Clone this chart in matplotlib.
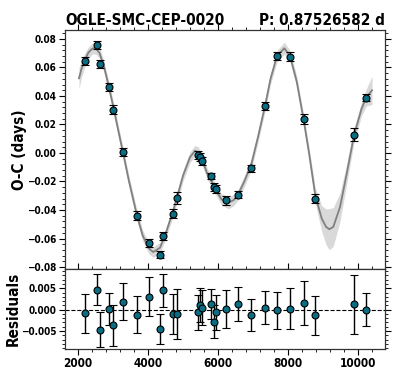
import matplotlib
matplotlib.use('Agg')
import matplotlib.pyplot as plt
from matplotlib.ticker import MultipleLocator
import numpy as np

# observed O-C points
epochs = [2200, 2530, 2620, 2877, 3000, 3294, 3677, 4029, 4343, 4437, 4714, 4820,
          5437, 5486, 5551, 5800, 5877, 5943, 6237, 6580, 6951, 7343, 7686, 8057,
          8448, 8780, 9886, 10237]
oc = [0.0645, 0.0758, 0.0627, 0.0463, 0.0304, 0.0007, -0.0439, -0.0632, -0.0713,
      -0.0582, -0.0425, -0.0316, -0.0016, -0.0028, -0.0056, -0.0161, -0.0239,
      -0.0255, -0.0332, -0.0292, -0.0107, 0.0330, 0.0681, 0.0676, 0.0236, -0.0320,
      0.0128, 0.0388]
oc_err = [0.0031, 0.0025, 0.0028, 0.0025, 0.0032, 0.0029, 0.0029, 0.0031, 0.0024,
          0.0026, 0.0031, 0.0040, 0.0028, 0.0027, 0.0028, 0.0024, 0.0026, 0.0028,
          0.0030, 0.0027, 0.0025, 0.0026, 0.0029, 0.0032, 0.0035, 0.0031, 0.0047,
          0.0026]
resid = [-0.0009, 0.0047, -0.0047, 0.0002, -0.0037, 0.0019, -0.0012, 0.0030, -0.0045,
         0.0045, -0.0010, -0.0010, -0.0006, 0.0010, 0.0005, 0.0013, -0.0028, -0.0006,
         0.0002, 0.0013, -0.0013, 0.0005, -0.0002, 0.0002, 0.0016, -0.0013, 0.0013,
         0.0000]
res_err = [0.0046, 0.0037, 0.0041, 0.0037, 0.0048, 0.0043, 0.0043, 0.0046, 0.0035,
           0.0038, 0.0046, 0.0059, 0.0041, 0.0040, 0.0042, 0.0036, 0.0038, 0.0041,
           0.0044, 0.0040, 0.0037, 0.0038, 0.0043, 0.0048, 0.0052, 0.0046, 0.0069,
           0.0039]

# model curve
model_x = [2030, 2100, 2200, 2300, 2400, 2450, 2530, 2620, 2750, 2877, 3000, 3150,
           3294, 3450, 3677, 3850, 4029, 4150, 4343, 4500, 4714, 4820, 5000, 5200,
           5343, 5437, 5551, 5700, 5800, 5943, 6100, 6294, 6450, 6580, 6750, 6951,
           7150, 7343, 7500, 7686, 7894, 8057, 8250, 8448, 8600, 8780, 8963, 9086,
           9180, 9294, 9486, 9677, 9886, 10100, 10237, 10400]
model_y = [0.0524, 0.0590, 0.0655, 0.0705, 0.0730, 0.0735, 0.0728, 0.0700, 0.0600,
           0.0470, 0.0335, 0.0160, -0.0005, -0.0190, -0.0430, -0.0580, -0.0670,
           -0.0695, -0.0665, -0.0570, -0.0410, -0.0320, -0.0160, -0.0030, 0.0015,
           0.0005, -0.0050, -0.0150, -0.0190, -0.0260, -0.0325, -0.0350, -0.0330,
           -0.0290, -0.0200, -0.0080, 0.0120, 0.0330, 0.0520, 0.0680, 0.0735, 0.0680,
           0.0500, 0.0230, 0.0000, -0.0300, -0.0460, -0.0518, -0.0535, -0.0518,
           -0.0379, -0.0145, 0.0125, 0.0310, 0.0390, 0.0440]
model_err = [0.0075, 0.0060, 0.0048, 0.0040, 0.0038, 0.0038, 0.0038, 0.0038, 0.0038,
             0.0038, 0.0038, 0.0038, 0.0038, 0.0038, 0.0038, 0.0038, 0.0038, 0.0038,
             0.0038, 0.0038, 0.0038, 0.0038, 0.0038, 0.0038, 0.0038, 0.0038, 0.0038,
             0.0038, 0.0038, 0.0038, 0.0040, 0.0042, 0.0040, 0.0038, 0.0038, 0.0038,
             0.0038, 0.0038, 0.0038, 0.0040, 0.0042, 0.0040, 0.0038, 0.0038, 0.0042,
             0.0055, 0.0090, 0.0125, 0.0145, 0.0135, 0.0100, 0.0070, 0.0050, 0.0048,
             0.0060, 0.0100]

plt.rcParams['font.family'] = ['DejaVu Sans Condensed', 'DejaVu Sans']
plt.rcParams['font.stretch'] = 'condensed'
plt.rcParams['font.weight'] = 'bold'
plt.rcParams['axes.labelweight'] = 'bold'

pt_color = '#0a6d84'

fig = plt.figure(figsize=(3.99, 3.82), dpi=100)
ax = fig.add_axes([0.1629, 0.2958, 0.8020, 0.6257])
ax_r = fig.add_axes([0.1629, 0.0864, 0.8020, 0.2094], sharex=ax)

mx = np.array(model_x)
my = np.array(model_y)
me = np.array(model_err)
ax.fill_between(mx, my - me, my + me, color='#d9d9d9', lw=0, zorder=1)
ax.plot(mx, my, color='#808080', lw=1.3, zorder=2)
ax.errorbar(epochs, oc, yerr=oc_err, fmt='o', color=pt_color, ms=5, mec='black',
            mew=0.8, ecolor='black', elinewidth=1, capsize=3, capthick=1, zorder=3)

ax_r.axhline(0, color='black', ls='--', lw=0.8, zorder=1)
ax_r.errorbar(epochs, resid, yerr=res_err, fmt='o', color=pt_color, ms=5, mec='black',
              mew=0.8, ecolor='black', elinewidth=1, capsize=3, capthick=1, zorder=3)

ax.set_xlim(1630, 10770)
ax.set_ylim(-0.0814, 0.0863)
ax_r.set_ylim(-0.0092, 0.0095)

ax.yaxis.set_major_locator(MultipleLocator(0.02))
ax.yaxis.set_minor_locator(MultipleLocator(0.004))
ax_r.yaxis.set_major_locator(MultipleLocator(0.005))
ax_r.yaxis.set_minor_locator(MultipleLocator(0.001))
ax_r.xaxis.set_major_locator(MultipleLocator(2000))
ax_r.xaxis.set_minor_locator(MultipleLocator(400))

for a in (ax, ax_r):
    a.tick_params(which='both', direction='out', top=True, right=True,
                  labelsize=7.2, pad=2)
    a.tick_params(which='major', length=4, width=0.8)
    a.tick_params(which='minor', length=2.5, width=0.6)
    for s in a.spines.values():
        s.set_linewidth(0.9)
        s.set_color('#333333')
ax.tick_params(labelbottom=False)
ax_r.tick_params(axis='x', labelsize=8.5)

ax.set_ylabel('O-C (days)', fontsize=11)
ax_r.set_ylabel('Residuals', fontsize=11)
ax.yaxis.set_label_coords(-0.12, 0.5)
ax_r.yaxis.set_label_coords(-0.138, 0.5)

ax.text(0.0, 1.021, 'OGLE-SMC-CEP-0020', transform=ax.transAxes, ha='left',
        va='baseline', fontsize=11, fontweight='bold')
ax.text(1.0, 1.021, 'P: 0.87526582 d', transform=ax.transAxes, ha='right',
        va='baseline', fontsize=11, fontweight='bold')

fig.savefig('out.png', dpi=100)
